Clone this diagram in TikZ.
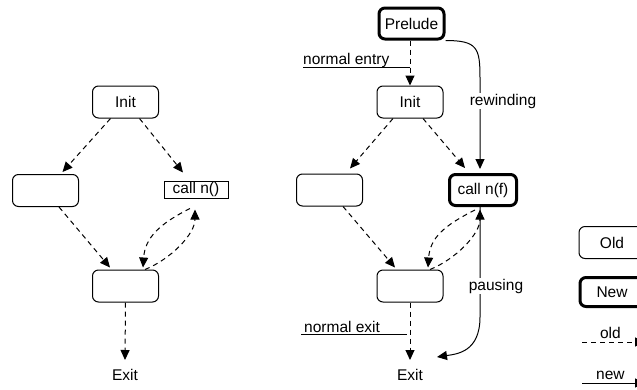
\documentclass[tikz,border=0pt]{standalone}
\usepackage{fontspec}
\setmainfont{Liberation Sans}
\usetikzlibrary{arrows.meta,calc}
\tikzset{
  txt/.style={font=\fontsize{15.5}{18}\selectfont},
  box/.style={draw, rounded corners=6pt, minimum width=66pt, minimum height=32pt, inner sep=0pt, line width=1pt, txt},
  newbox/.style={box, line width=3pt},
  plainbox/.style={draw, line width=1pt, minimum width=64pt, minimum height=17pt, inner sep=0pt, txt},
  lbl/.style={txt, inner sep=1pt},
  oldarr/.style={line width=1pt, dash pattern=on 5pt off 4pt, -{Triangle[length=10pt,width=9pt]}},
  newarr/.style={line width=1pt, -{Triangle[length=10pt,width=9pt]}},
  uline/.style={line width=1pt}
}
\begin{document}
\begin{tikzpicture}[x=1pt,y=-1pt]
\useasboundingbox (0,0) rectangle (637,389);
\clip (0,0) rectangle (637,389);

% ---------- left diagram ----------
\node[box] (i1) at (125.5,102) {Init};
\node[box] (l1) at (45.5,190.5) {};
\node[plainbox] (c1) at (196,189.5) {call n()};
\node[box] (b1) at (125.5,286) {};
\node[lbl, anchor=base] (e1) at (125,380) {Exit};

\draw[oldarr] ($(i1.south)+(-15,0)$) -- ($(l1.north)+(17,-2)$);
\draw[oldarr] ($(i1.south)+(14,0)$) -- ($(c1.north)+(-13,-8)$);
\draw[oldarr] ($(l1.south)+(13.5,0)$) -- ($(b1.north)+(-15.5,-2)$);
\draw[oldarr] ($(c1.south)+(-6,10)$) .. controls +(-30,15) and +(2,-30) .. ($(b1.north)+(17.5,-2)$);
\draw[oldarr] ($(b1.north)+(19.5,0)$) .. controls +(25,-10) and +(0,25) .. ($(c1.south)+(-1,11)$);
\draw[oldarr] (b1.south) -- ($(e1.base)+(0,-20)$);

% ---------- middle diagram ----------
\node[newbox, minimum width=65pt, minimum height=31pt] (p) at (411.5,23.5) {Prelude};
\node[box] (i2) at (410,102) {Init};
\node[box] (l2) at (329.5,190) {};
\node[newbox, minimum width=67pt, minimum height=31pt] (c2) at (483,190) {call n(f)};
\node[box] (b2) at (410,286) {};
\node[lbl, anchor=base] (e2) at (410,380) {Exit};

\draw[oldarr] (i2.north |- p.south) -- (i2.north);
\node[lbl, anchor=base west] (nen) at (302,64) {normal entry};
\coordinate (nel) at (303,67);
\draw[uline] (nel) -- (nel -| i2.north);

\draw[oldarr] ($(i2.south)+(-17,0)$) -- ($(l2.north)+(20.5,-5)$);
\draw[oldarr] ($(i2.south)+(13,0)$) -- ($(c2.north)+(-18,-5)$);
\draw[oldarr] ($(l2.south)+(13.5,0)$) -- ($(b2.north)+(-15,-2)$);
\draw[oldarr] ($(c2.south)+(-8,3)$) .. controls +(-30,15) and +(2,-30) .. ($(b2.north)+(18,-2)$);
\draw[oldarr] ($(b2.north)+(20,0)$) .. controls +(25,-10) and +(0,25) .. ($(c2.south)+(-3,2.5)$);
\draw[oldarr] (b2.south) -- ($(e2.base)+(0,-20)$);

\node[lbl, anchor=base west] (nxn) at (303,332) {normal exit};
\coordinate (nxl) at (301,334);
\draw[uline] (nxl) -- ($(nxl -| b2.south)+(-3,0)$);

% rewinding
\draw[newarr] (p.south east) .. controls +(32,0) and +(0,-30) .. ($(c2.north)+(-3,-95)$) -- ($(c2.north)+(-3,-4)$);
\node[lbl, fill=white, anchor=base] (rw) at (503,105) {rewinding};

% pausing
\draw[newarr] ($(c2.south)+(-3,0)$) -- ($(c2.south)+(-3,110)$) .. controls +(0,35) and +(20,-3) .. ($(e2.base)+(27,-23)$);
\node[lbl, fill=white, anchor=base] (ps) at (496,290) {pausing};

% ---------- legend ----------
\node[box] (old) at (612,242.5) {Old};
\node[newbox, minimum height=29pt, minimum width=64pt] (new) at (612,292) {New};
\coordinate (o1) at (582,342);
\coordinate (o2) at (645,342);
\draw[oldarr] (o1) -- node[lbl, pos=0.45, anchor=base, yshift=4pt] (ol) {old} (o2);
\coordinate (n1) at (582,383);
\coordinate (n2) at (645,383);
\draw[newarr] (n1) -- node[lbl, pos=0.45, anchor=base, yshift=4pt] (nl) {new} (n2);
\end{tikzpicture}
\end{document}
